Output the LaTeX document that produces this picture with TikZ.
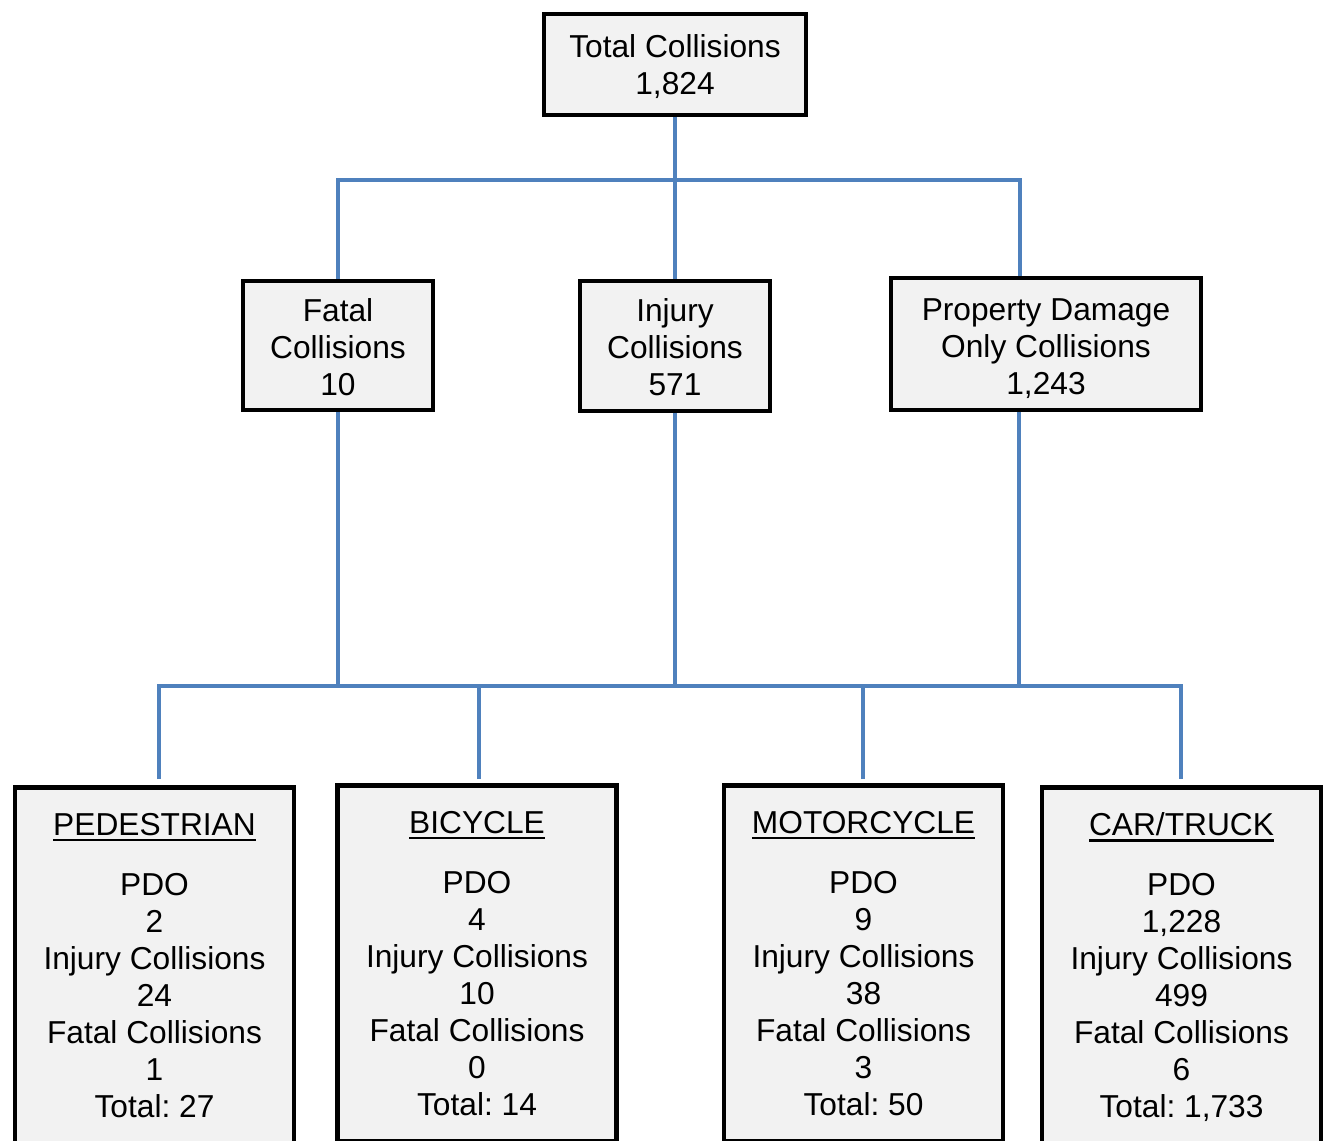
\documentclass[tikz,border=0pt]{standalone}
\usepackage{fontspec}
\setmainfont{Liberation Sans}
\usetikzlibrary{backgrounds}
\definecolor{boxfill}{HTML}{F2F2F2}
\definecolor{connblue}{HTML}{4F81BD}
\newcommand\hdrline[1]{\setbox0\hbox{#1}\rlap{\rule[-6pt]{\wd0}{2.5pt}}\box0}
\newcommand\lift[1]{\rule{0pt}{#1}}
\tikzset{
  box/.style={draw=black, line width=4.5pt, fill=boxfill, align=center,
    font=\fontsize{31.7}{37}\selectfont\frenchspacing, inner sep=0pt},
  catbox/.style={box, anchor=north, minimum width=279pt, inner ysep=25.7pt},
  conn/.style={draw=connblue, line width=4pt}
}
\begin{document}
\begin{tikzpicture}[x=1pt,y=-1pt]
\useasboundingbox (0,0) rectangle (1324,1140);
\clip (0,0) rectangle (1324,1140);

\node[box, minimum width=262pt, minimum height=101pt] (total) at (675,64.5) {\lift{28pt}Total Collisions\\1,824};
\node[box, minimum width=190pt, minimum height=129pt] (fatal) at (338,345.5) {\lift{26pt}Fatal\\Collisions\\10};
\node[box, minimum width=190pt, minimum height=130pt] (injury) at (675,346) {\lift{25pt}Injury\\Collisions\\571};
\node[box, minimum width=310pt, minimum height=132pt] (pdo) at (1046,344) {\lift{31pt}Property Damage\\Only Collisions\\1,243};

\node[catbox] (ped) at (154.5,785) {\hdrline{PEDESTRIAN}\\[23pt]PDO\\2\\Injury Collisions\\24\\Fatal Collisions\\1\\Total: 27};
\node[catbox] (bike) at (477,783) {\hdrline{BICYCLE}\\[23pt]PDO\\4\\Injury Collisions\\10\\Fatal Collisions\\0\\Total: 14};
\node[catbox] (moto) at (863.5,783) {\hdrline{MOTORCYCLE}\\[23pt]PDO\\9\\Injury Collisions\\38\\Fatal Collisions\\3\\Total: 50};
\node[catbox] (car) at (1181.5,785) {\hdrline{CAR/TRUCK}\\[23pt]PDO\\1,228\\Injury Collisions\\499\\Fatal Collisions\\6\\Total: 1,733};

\coordinate (h1) at (675,180);
\coordinate (h2) at (675,686);
\coordinate (pdoT) at (1020,278);
\coordinate (pdoB) at (1019,412);
\coordinate (pedT) at (159,779);
\coordinate (bikeT) at (479,779);
\coordinate (motoT) at (863,779);
\coordinate (carT) at (1181,779);

\begin{scope}[on background layer]
\fill[white] (0,0) rectangle (1324,1140);
\draw[conn] (total.south) -- (injury.north);
\draw[conn] (fatal.north) |- (h1) -| (pdoT);
\draw[conn] (fatal.south) -- (fatal.south |- h2);
\draw[conn] (injury.south) -- (h2);
\draw[conn] (pdoB) -- (pdoB |- h2);
\draw[conn] (pedT) |- (h2) -| (carT);
\draw[conn] (bikeT) -- (bikeT |- h2);
\draw[conn] (motoT) -- (motoT |- h2);
\end{scope}
\end{tikzpicture}
\end{document}
